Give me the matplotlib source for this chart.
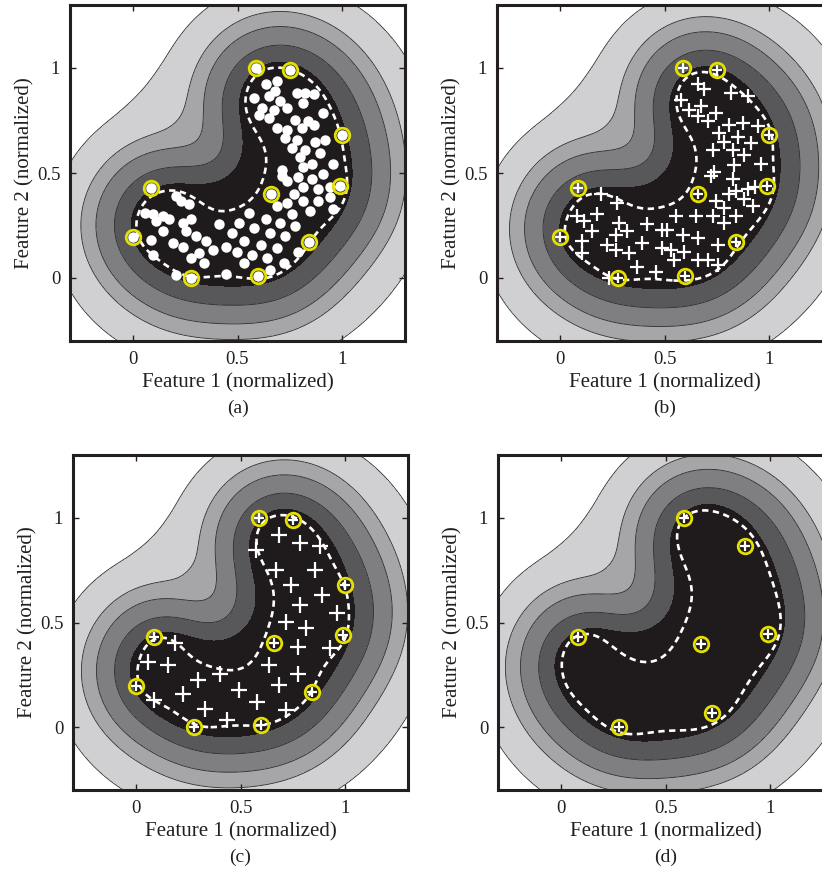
import numpy as np
import matplotlib.pyplot as plt

plt.rcParams["font.family"] = ["Liberation Serif", "DejaVu Serif"]

# support vectors (yellow circles), shared by panels (a)-(c)
sv_abc = np.array([
    [0.59, 1.00], [0.75, 0.99], [1.00, 0.68], [0.99, 0.44], [0.66, 0.40],
    [0.84, 0.17], [0.60, 0.01], [0.28, 0.00], [0.00, 0.195], [0.085, 0.43],
])

# reduced set of panel (d)
sv_d = np.array([
    [0.59, 1.00], [0.88, 0.866], [0.99, 0.445], [0.67, 0.397],
    [0.72, 0.066], [0.28, 0.00], [0.084, 0.432],
])

# panel (a): white dots
pts_a = np.array([
    [0.634, 0.923], [0.689, 0.939], [0.681, 0.891], [0.649, 0.867], [0.578, 0.858],
    [0.783, 0.883], [0.823, 0.883], [0.863, 0.874], [0.618, 0.810], [0.705, 0.842],
    [0.673, 0.802], [0.736, 0.810], [0.815, 0.834], [0.602, 0.778], [0.649, 0.762],
    [0.776, 0.754], [0.839, 0.746], [0.910, 0.786], [0.689, 0.714], [0.736, 0.705],
    [0.807, 0.714], [0.863, 0.729], [0.728, 0.665], [0.783, 0.657], [0.871, 0.649],
    [0.918, 0.657], [0.760, 0.617], [0.823, 0.609], [0.800, 0.577], [0.894, 0.593],
    [0.957, 0.544], [0.815, 0.528], [0.854, 0.544], [0.712, 0.512], [0.791, 0.480],
    [0.736, 0.464], [0.854, 0.472], [0.910, 0.496], [0.942, 0.432], [0.886, 0.424],
    [0.815, 0.432],
    [0.207, 0.391], [0.270, 0.351], [0.231, 0.367], [0.057, 0.311], [0.096, 0.303],
    [0.144, 0.295], [0.112, 0.271], [0.175, 0.279], [0.238, 0.263], [0.278, 0.279],
    [0.412, 0.255], [0.475, 0.215], [0.144, 0.222], [0.254, 0.222], [0.302, 0.198],
    [0.089, 0.182], [0.191, 0.166], [0.238, 0.150], [0.349, 0.174], [0.381, 0.134],
    [0.318, 0.118], [0.096, 0.110], [0.278, 0.094], [0.341, 0.070], [0.207, 0.013],
    [0.444, 0.021], [0.444, 0.150],
    [0.712, 0.488], [0.768, 0.400], [0.736, 0.359], [0.815, 0.367], [0.886, 0.367],
    [0.942, 0.384], [0.847, 0.319], [0.957, 0.327], [0.760, 0.303], [0.689, 0.343],
    [0.555, 0.311], [0.634, 0.279], [0.705, 0.263], [0.776, 0.246], [0.507, 0.263],
    [0.578, 0.239], [0.657, 0.215], [0.728, 0.198], [0.531, 0.174], [0.610, 0.158],
    [0.689, 0.142], [0.499, 0.126], [0.570, 0.110], [0.641, 0.094], [0.720, 0.070],
    [0.531, 0.070], [0.657, 0.037], [0.791, 0.126],
])

# panel (b): crosses
pts_b = np.array([
    [0.658, 0.923], [0.690, 0.899], [0.578, 0.850], [0.618, 0.802], [0.674, 0.818],
    [0.658, 0.770], [0.818, 0.883], [0.897, 0.867], [0.746, 0.786], [0.706, 0.746],
    [0.810, 0.730], [0.873, 0.738], [0.945, 0.722], [0.762, 0.689], [0.786, 0.649],
    [0.850, 0.673], [0.914, 0.641], [0.730, 0.609], [0.826, 0.609], [0.882, 0.585],
    [0.962, 0.544], [0.738, 0.504], [0.834, 0.536], [0.826, 0.472], [0.897, 0.424],
    [0.842, 0.415],
    [0.195, 0.400], [0.275, 0.359], [0.083, 0.295], [0.179, 0.303], [0.115, 0.271],
    [0.283, 0.263], [0.418, 0.255], [0.490, 0.230], [0.155, 0.222], [0.322, 0.222],
    [0.267, 0.206], [0.107, 0.174], [0.227, 0.158], [0.394, 0.166], [0.267, 0.134],
    [0.331, 0.118], [0.107, 0.118], [0.490, 0.142], [0.370, 0.053], [0.235, 0.000],
    [0.459, 0.029],
    [0.722, 0.488], [0.930, 0.432], [0.810, 0.400], [0.882, 0.375], [0.921, 0.343],
    [0.746, 0.367], [0.786, 0.335], [0.554, 0.295], [0.650, 0.295], [0.730, 0.295],
    [0.842, 0.295], [0.786, 0.263], [0.514, 0.230], [0.586, 0.206], [0.658, 0.190],
    [0.754, 0.158], [0.530, 0.134], [0.594, 0.126], [0.706, 0.086], [0.754, 0.061],
    [0.546, 0.086], [0.658, 0.086],
])

# panel (c): crosses
pts_c = np.array([
    [0.685, 0.920], [0.782, 0.880], [0.879, 0.864], [0.572, 0.848], [0.669, 0.752],
    [0.855, 0.752], [0.742, 0.680], [0.887, 0.632], [0.782, 0.584], [0.959, 0.544],
    [0.718, 0.504], [0.814, 0.472], [0.774, 0.384], [0.927, 0.376], [0.637, 0.296],
    [0.774, 0.256], [0.685, 0.200], [0.185, 0.400], [0.056, 0.312], [0.153, 0.296],
    [0.403, 0.256], [0.298, 0.224], [0.492, 0.176], [0.226, 0.160], [0.089, 0.128],
    [0.580, 0.120], [0.330, 0.088], [0.718, 0.080], [0.435, 0.032],
])

captions = ["(a)", "(b)", "(c)", "(d)"]
# distance of each grey band edge from the dashed boundary
band_offsets = [0.035, 0.135, 0.225, 0.30, 0.47]
band_colors = ["#1f1a1b", "#58585a", "#7f7f81", "#a6a6a8", "#d0d0d2", "#ffffff"]
yellow = "#e3df00"
ink = "#231f20"


def soft_dist(pts, gx, gy, sigma=0.1):
    # smooth (log-sum-exp) squared distance to a point set
    d2 = (gx[..., None] - pts[:, 0]) ** 2 + (gy[..., None] - pts[:, 1]) ** 2
    s2 = 2 * sigma ** 2
    m = d2.min(axis=-1)
    return m - s2 * np.log(np.exp(-(d2 - m[..., None]) / s2).sum(axis=-1))


def curve_pieces(cs):
    # split contour paths into their separate lines, without CLOSEPOLY dummies
    pieces = []
    for path in cs.get_paths():
        v, c = path.vertices, path.codes
        if c is None:
            c = np.full(len(v), 2)
            c[0] = 1
        starts = list(np.flatnonzero(c == 1)) + [len(v)]
        for a, b in zip(starts[:-1], starts[1:]):
            pv, pc = v[a:b], c[a:b]
            line = pv[pc != 79]
            if (pc == 79).any():
                line = np.vstack([line, line[:1]])
            if len(line) > 1:
                pieces.append(line)
    return pieces


def resample(poly, step):
    seg = np.diff(poly, axis=0)
    s = np.r_[0, np.cumsum(np.hypot(seg[:, 0], seg[:, 1]))]
    t = np.arange(0, s[-1], step)
    return np.c_[np.interp(t, s, poly[:, 0]), np.interp(t, s, poly[:, 1])]


def curve_dist(verts, gx, gy, sigma, step):
    # kernel-smoothed distance from the boundary curve (fills concave parts)
    s2 = 2 * sigma ** 2
    c0 = s2 * np.log(sigma * np.sqrt(2 * np.pi) / step)
    flat = np.c_[gx.ravel(), gy.ravel()]
    out = np.empty(len(flat))
    for i in range(0, len(flat), 2000):
        c = flat[i:i + 2000]
        d2 = ((c[:, None, :] - verts[None]) ** 2).sum(-1)
        m = d2.min(1)
        h = m - s2 * np.log(np.exp(-(d2 - m[:, None]) / s2).sum(1))
        out[i:i + 2000] = np.sqrt(np.clip(h + c0, 0, None))
    return out.reshape(gx.shape)


def band_distance(cs, gx, gy, step=0.005):
    verts = np.vstack([resample(p, step) for p in curve_pieces(cs)])
    near = curve_dist(verts, gx, gy, 0.14, step)
    far = curve_dist(verts, gx, gy, 0.26, step)
    # only the outermost bands get rounder
    w = np.clip((near - 0.28) / 0.17, 0, 1)
    blend = np.maximum((1 - w) * near + w * far, 0.28)
    return np.where(near < 0.28, near, blend)


def draw_panel(ax, field_pts, data, sv, kind, caption, use_max, sigma):
    g = np.linspace(-0.3, 1.3, 400)
    gx, gy = np.meshgrid(g, g)
    u = soft_dist(field_pts, gx, gy, sigma)
    u_sv = soft_dist(field_pts, sv[:, 0], sv[:, 1], sigma)
    level = u_sv.max() if use_max else u_sv.mean()

    # dashed decision boundary
    cs = ax.contour(gx, gy, u, levels=[level], colors="white", linewidths=1.9,
                    linestyles=[(0, (2.4, 1.7))], zorder=3)
    d = band_distance(cs, gx, gy)
    d[u <= level] = -1

    lv = [-2] + band_offsets + [d.max() + 1]
    ax.contourf(gx, gy, d, levels=lv, colors=band_colors, zorder=1)
    ax.contour(gx, gy, d, levels=band_offsets[1:], colors="#2b2b2b",
               linewidths=0.6, zorder=2)

    if kind == "dot":
        ax.plot(data[:, 0], data[:, 1], "o", ms=7.5, mfc="white", mec="none", zorder=4)
        ax.plot(sv[:, 0], sv[:, 1], "o", ms=7.5, mfc="white", mec="none", zorder=4)
    else:
        if kind == "cross":
            ms = 9.5 if len(data) > 40 else 11
            ax.plot(data[:, 0], data[:, 1], "+", ms=ms, mew=1.6, color="white", zorder=4)
        ax.plot(sv[:, 0], sv[:, 1], "+", ms=7, mew=1.6, color="white", zorder=4)
    ax.plot(sv[:, 0], sv[:, 1], "o", ms=10.5, mfc="none", mec=yellow, mew=2.0, zorder=5)

    ax.set_xlim(-0.3, 1.3)
    ax.set_ylim(-0.3, 1.3)
    ax.set_xticks([0, 0.5, 1])
    ax.set_xticklabels(["0", "0.5", "1"])
    ax.set_yticks([0, 0.5, 1])
    ax.set_yticklabels(["0", "0.5", "1"])
    ax.tick_params(direction="in", top=True, right=True, length=4, width=1,
                   labelsize=13.5, colors=ink, pad=7)
    for s in ax.spines.values():
        s.set_linewidth(2.2)
        s.set_color(ink)
        s.set_zorder(6)
    ax.set_xlabel("Feature 1 (normalized)", fontsize=15, color=ink, labelpad=4)
    ax.set_ylabel("Feature 2 (normalized)", fontsize=15, color=ink, labelpad=2)
    ax.text(0.5, -0.2, caption, transform=ax.transAxes, ha="center",
            va="center", fontsize=14, color=ink)


W, H = 822, 877
fig = plt.figure(figsize=(W / 100, H / 100), dpi=100)
rects = [
    [70 / W, 1 - 341 / H, 335 / W, 336 / H],
    [497 / W, 1 - 341 / H, 335 / W, 336 / H],
    [73 / W, 1 - 790 / H, 335 / W, 335 / H],
    [498 / W, 1 - 790 / H, 335 / W, 335 / H],
]
panels = [
    (np.vstack([pts_a, sv_abc]), pts_a, sv_abc, "dot", False, 0.1),
    (np.vstack([pts_b, sv_abc]), pts_b, sv_abc, "cross", False, 0.1),
    (np.vstack([pts_c, sv_abc]), pts_c, sv_abc, "cross", False, 0.11),
    # (d): field from the (c) sample, only the reduced set is drawn
    (np.vstack([pts_c, sv_abc, sv_d]), None, sv_d, "sv_only", True, 0.14),
]
for rect, (field_pts, data, sv, kind, use_max, sig), cap in zip(rects, panels, captions):
    ax = fig.add_axes(rect)
    draw_panel(ax, field_pts, data, sv, kind, cap, use_max, sig)

fig.savefig("out.png", dpi=100)
